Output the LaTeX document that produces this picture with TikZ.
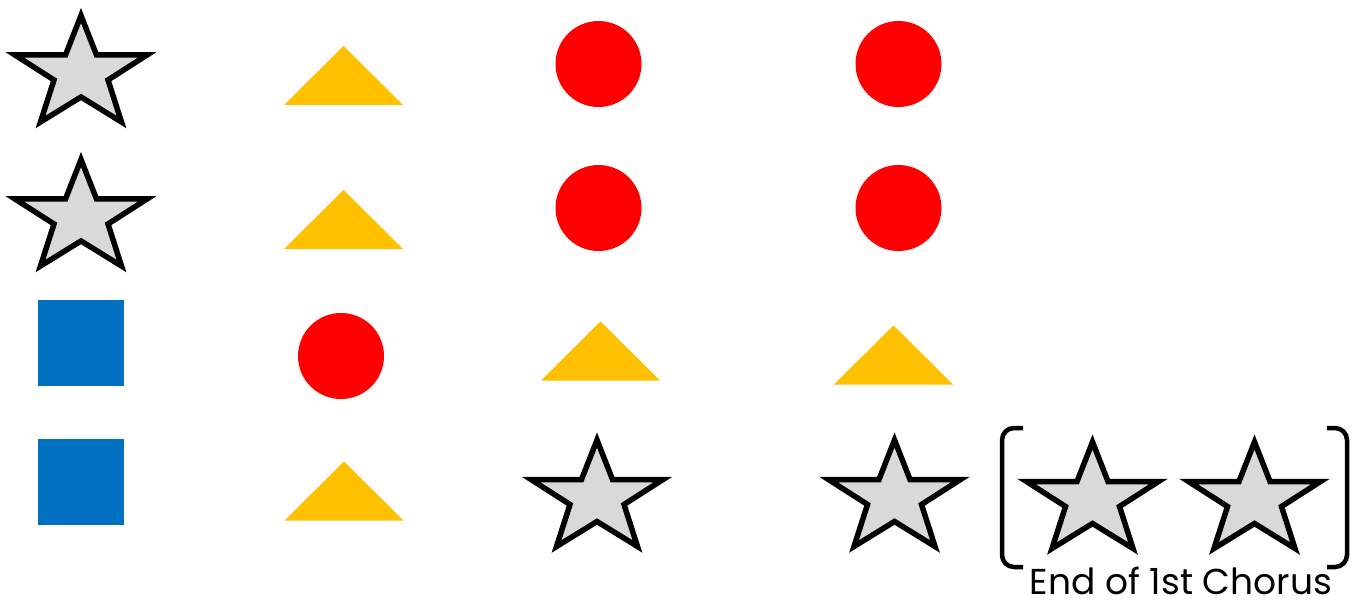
\documentclass[tikz,border=0pt]{standalone}
\usepackage{fontspec}
\setmainfont{Poppins}
\usetikzlibrary{shapes.geometric}

\definecolor{stargray}{HTML}{D9D9D9}
\definecolor{trigold}{HTML}{FFC000}
\definecolor{dotred}{HTML}{FF0000}
\definecolor{blockblue}{HTML}{0070C0}

\begin{document}
\begin{tikzpicture}[
    x=1pt, y=-1pt,
    dot/.style={circle, fill=dotred, minimum size=86pt, inner sep=0pt},
    block/.style={rectangle, fill=blockblue, minimum size=86pt, inner sep=0pt},
    bracket/.style={draw=black, line width=4.5pt, rounded corners=12pt},
    tri/.pic={\fill[trigold] (-59.5,29.5) -- (0,-29.5) -- (59.5,29.5) -- cycle;},
    starmark/.pic={\filldraw[fill=stargray, draw=black, line width=5.5pt, miter limit=10]
        (0,-48.5) -- (15.5,-9) -- (66,-9) -- (27,16) -- (40.5,58) -- (0,33)
        -- (-40.5,58) -- (-27,16) -- (-66,-9) -- (-15.5,-9) -- cycle;}
]
    \useasboundingbox (0,0) rectangle (1354,604);

    % row 1
    \pic (star1) at (81,64) {starmark};
    \pic (tri1) at (343.5,75.5) {tri};
    \node[dot] (dot1a) at (598.5,64) {};
    \node[dot] (dot1b) at (898.5,64) {};

    % row 2
    \pic (star2) at (81,208) {starmark};
    \pic (tri2) at (343.5,219.5) {tri};
    \node[dot] (dot2a) at (598.5,208) {};
    \node[dot] (dot2b) at (898.5,208) {};

    % row 3
    \node[block] (block3) at (81,343) {};
    \node[dot] (dot3) at (341,356) {};
    \pic (tri3a) at (600.5,351) {tri};
    \pic (tri3b) at (893.5,355) {tri};

    % row 4
    \node[block] (block4) at (81,482) {};
    \pic (tri4) at (344,491) {tri};
    \pic (star4a) at (597,488.5) {starmark};
    \pic (star4b) at (894.5,488.5) {starmark};
    \pic (star4c) at (1092.5,490.5) {starmark};
    \pic (star4d) at (1254.5,490.5) {starmark};

    % bracket round the last two stars
    \coordinate (lbtop) at (1023,428);
    \coordinate (lbbot) at (1023,567);
    \coordinate (rbtop) at (1327,428);
    \coordinate (rbbot) at (1327,567);
    \draw[bracket] (lbtop) -| (1002,497) |- (lbbot);
    \draw[bracket] (rbtop) -| (1347,497) |- (rbbot);
    \node[font=\fontsize{36}{40}\selectfont, inner sep=0pt, anchor=base] (chorus) at (1181,594) {End of 1st Chorus};
\end{tikzpicture}
\end{document}
